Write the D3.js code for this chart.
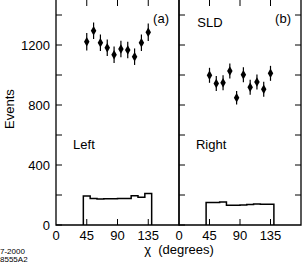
<!DOCTYPE html>
<html>
<head>
<meta charset="utf-8">
<script src="https://cdn.jsdelivr.net/npm/d3@7"></script>
<style>
  body { margin: 0; background: #fff; }
  text { font-family: "Liberation Sans", Arial, sans-serif; fill: #000; }
</style>
</head>
<body id="viz">
<script>
// Data
var chi_points = [45, 55, 65, 75, 85, 95, 105, 115, 125, 135]
var left_events = [1222, 1295, 1215, 1182, 1135, 1173, 1167, 1122, 1215, 1285]
var left_err = [58, 55, 55, 55, 55, 55, 55, 55, 55, 58]
var right_events = [998, 944, 949, 1027, 849, 1002, 918, 953, 905, 1011]
var right_err = [50, 50, 50, 50, 45, 50, 50, 50, 50, 50]
var bin_edges = [40, 50, 60, 70, 80, 90, 100, 110, 120, 130, 140]
var left_hist = [193, 176, 173, 175, 175, 176, 177, 195, 185, 210]
var right_hist = [150, 150, 153, 132, 132, 134, 136, 140, 139, 139]
var x_ticks = [0, 45, 90, 135]
var y_labels = [0, 400, 800, 1200]
var y_minor = [200, 600, 1000, 1400]

// sizes
svg_width = 303
svg_height = 265
frame_stroke = 1.3
tick_len = 6

svg = d3.select("body#viz")
  .append("svg")
  .attr("width", svg_width)
  .attr("height", svg_height)

var y = d3.scaleLinear().domain([0, 1600]).range([225, -15])

// one x scale per panel
var xLeft = d3.scaleLinear().domain([0, 180]).range([56, 179])
var xRight = d3.scaleLinear().domain([0, 180]).range([179, 301])

function drawPanel(x, events, errs, hist, tag, label, rightTicks) {
  var g = svg.append("g")

  // frame (top edge sits just above the picture)
  g.append("path")
    .attr("d", "M" + x(0) + "," + (-3) + "V" + y(0) + "H" + x(180) + "V" + (-3))
    .attr("fill", "none")
    .attr("stroke", "#000")
    .attr("stroke-width", frame_stroke)

  // left side ticks, pointing in
  g.selectAll("ytick")
    .data(y_labels.concat(y_minor))
    .enter().append("line")
      .attr("x1", x(0)).attr("x2", x(0) + tick_len)
      .attr("y1", function(d) { return y(d) }).attr("y2", function(d) { return y(d) })
      .attr("stroke", "#000").attr("stroke-width", 1)

  if (rightTicks) {
    g.selectAll("ytickr")
      .data(y_labels.concat(y_minor).filter(function(d) { return d > 0 }))
      .enter().append("line")
        .attr("x1", x(180)).attr("x2", x(180) - tick_len)
        .attr("y1", function(d) { return y(d) }).attr("y2", function(d) { return y(d) })
        .attr("stroke", "#000").attr("stroke-width", 1)
  }

  // bottom and top ticks
  g.selectAll("xtick")
    .data(x_ticks.slice(1))
    .enter().append("line")
      .attr("x1", function(d) { return x(d) }).attr("x2", function(d) { return x(d) })
      .attr("y1", y(0)).attr("y2", y(0) - tick_len)
      .attr("stroke", "#000").attr("stroke-width", 1)
  g.selectAll("xtickt")
    .data(x_ticks.slice(1))
    .enter().append("line")
      .attr("x1", function(d) { return x(d) }).attr("x2", function(d) { return x(d) })
      .attr("y1", 0).attr("y2", tick_len)
      .attr("stroke", "#000").attr("stroke-width", 1)

  // x tick labels
  g.selectAll("xlab")
    .data(x_ticks)
    .enter().append("text")
      .attr("x", function(d) { return x(d) })
      .attr("y", 240)
      .attr("text-anchor", "middle")
      .style("font-size", "13px")
      .text(function(d) { return d })

  // histogram as a step line
  var step = []
  hist.forEach(function(v, i) {
    step.push([bin_edges[i], v])
    step.push([bin_edges[i + 1], v])
  })
  step.unshift([bin_edges[0], 0])
  step.push([bin_edges[bin_edges.length - 1], 0])
  g.append("path")
    .attr("d", d3.line().x(function(d) { return x(d[0]) }).y(function(d) { return y(d[1]) })(step))
    .attr("fill", "none")
    .attr("stroke", "#000")
    .attr("stroke-width", 1.5)

  // error bars
  g.selectAll("err")
    .data(events)
    .enter().append("line")
      .attr("x1", function(d, i) { return x(chi_points[i]) })
      .attr("x2", function(d, i) { return x(chi_points[i]) })
      .attr("y1", function(d, i) { return y(d - errs[i]) })
      .attr("y2", function(d, i) { return y(d + errs[i]) })
      .attr("stroke", "#000")
      .attr("stroke-width", 1.2)

  // points (small diamonds)
  g.selectAll("pt")
    .data(events)
    .enter().append("path")
      .attr("d", d3.symbol().type(d3.symbolDiamond).size(26))
      .attr("transform", function(d, i) { return "translate(" + x(chi_points[i]) + "," + y(d) + ")" })
      .attr("fill", "#000")

  // panel tag and side label
  g.append("text")
    .attr("x", x(180) - 10)
    .attr("y", 23)
    .attr("text-anchor", "end")
    .style("font-size", "13px")
    .text(tag)
  g.append("text")
    .attr("x", x(25))
    .attr("y", 149)
    .style("font-size", "13px")
    .text(label)
}

drawPanel(xLeft, left_events, left_err, left_hist, "(a)", "Left", false)
drawPanel(xRight, right_events, right_err, right_hist, "(b)", "Right", true)

// SLD label
svg.append("text")
  .attr("x", xRight(27))
  .attr("y", 27)
  .style("font-size", "13px")
  .text("SLD")

// y labels
svg.selectAll("ylab")
  .data(y_labels)
  .enter().append("text")
    .attr("x", 50)
    .attr("y", function(d) { return y(d) + 5 })
    .attr("text-anchor", "end")
    .style("font-size", "13px")
    .text(function(d) { return d })

svg.append("text")
  .attr("transform", "translate(14,109) rotate(-90)")
  .attr("text-anchor", "middle")
  .style("font-size", "13px")
  .text("Events")

// x axis title
svg.append("text")
  .attr("x", 179)
  .attr("y", 254)
  .attr("text-anchor", "middle")
  .style("font-size", "13px")
  .style("white-space", "pre")
  .text("χ  (degrees)")

// figure id
svg.append("text")
  .attr("x", 0).attr("y", 254)
  .style("font-size", "8px")
  .text("7-2000")
svg.append("text")
  .attr("x", 0).attr("y", 262)
  .style("font-size", "8px")
  .text("8555A2")
</script>
</body>
</html>
